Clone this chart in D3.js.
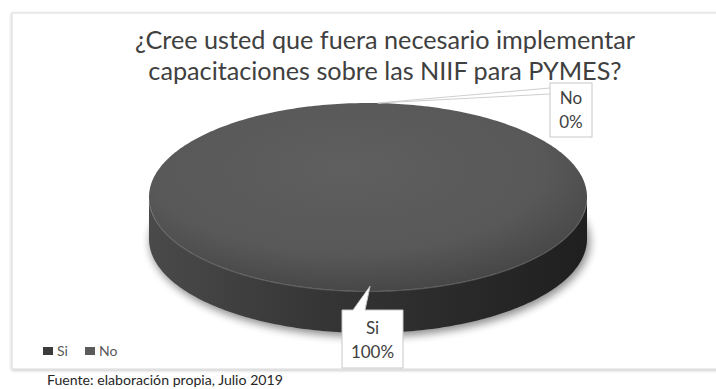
<!DOCTYPE html>
<html>
<head>
<meta charset="utf-8">
<script src="https://cdn.jsdelivr.net/npm/d3@7"></script>
<style>
  html, body { margin: 0; padding: 0; background: #ffffff; }
  svg { display: block; }
</style>
</head>
<body>
<svg id="chart" width="716" height="389"></svg>
<script>
// Survey answers
const categories = ["Si", "No"];
const values = [100, 0];
const sliceColors = ["#565656", "#6a6a6a"];
const legendColors = ["#3c3c3c", "#5a5a5a"];
const titleLines = [
  "¿Cree usted que fuera necesario implementar",
  "capacitaciones sobre las NIIF para PYMES?"
];
const sourceNote = "Fuente: elaboración propia,  Julio 2019";

const W = 716, H = 389;
const FONT = "Lato, 'Open Sans', sans-serif";
const svg = d3.select("#chart");
const defs = svg.append("defs");

// Frame around the chart area
const frameShadow = defs.append("filter").attr("id", "frameShadow")
  .attr("x", "-5%").attr("y", "-5%").attr("width", "110%").attr("height", "115%");
frameShadow.append("feGaussianBlur").attr("in", "SourceAlpha").attr("stdDeviation", 1.5).attr("result", "b");
frameShadow.append("feOffset").attr("in", "b").attr("dx", 0).attr("dy", 1).attr("result", "o");
frameShadow.append("feComponentTransfer").attr("in", "o").attr("result", "s")
  .append("feFuncA").attr("type", "linear").attr("slope", 0.25);
const fm = frameShadow.append("feMerge");
fm.append("feMergeNode").attr("in", "s");
fm.append("feMergeNode").attr("in", "SourceGraphic");

svg.append("rect")
  .attr("x", 12).attr("y", 13).attr("width", 730).attr("height", 356)
  .attr("fill", "#ffffff").attr("stroke", "#d9d9d9").attr("stroke-width", 1)
  .attr("filter", "url(#frameShadow)");

// Fit a text element to a target width
function fitWidth(sel, target, base) {
  sel.attr("font-size", base);
  const w = sel.node().getComputedTextLength();
  const s = base * target / w;
  sel.attr("font-size", s);
  return s;
}

// Title, two centred lines sharing one size
const titleX = 385;
const titleBase = [49, 80];
const t1 = svg.append("text").attr("x", titleX).attr("y", titleBase[0])
  .attr("text-anchor", "middle").attr("font-family", FONT).attr("fill", "#404040")
  .text(titleLines[0]);
const titleSize = fitWidth(t1, 500, 24);
svg.append("text").attr("x", titleX).attr("y", titleBase[1])
  .attr("text-anchor", "middle").attr("font-family", FONT).attr("fill", "#404040")
  .attr("font-size", titleSize)
  .text(titleLines[1]);

// 3D pie geometry
const cx = 368, cy = 197, rx = 219, ry = 94, depth = 42;
const pie = d3.pie().sort(null).value(d => d.value);
const arcs = pie(categories.map((c, i) => ({ cat: c, value: values[i], i })));
const total = d3.sum(values);

// projected point on the top (dz = 0) or bottom (dz = depth) rim
const xAt = a => cx + rx * Math.sin(a);
const yAt = (a, dz) => cy - ry * Math.cos(a) + dz;

function angleSteps(a0, a1) {
  const n = Math.max(2, Math.ceil((a1 - a0) / (Math.PI / 180)));
  return d3.range(n + 1).map(k => a0 + (a1 - a0) * k / n);
}

// gradients
const topGrad = defs.append("radialGradient").attr("id", "topGrad")
  .attr("cx", "45%").attr("cy", "35%").attr("r", "65%");
topGrad.append("stop").attr("offset", "0%").attr("stop-color", "#5f5f5f");
topGrad.append("stop").attr("offset", "70%").attr("stop-color", "#585858");
topGrad.append("stop").attr("offset", "100%").attr("stop-color", "#474747");

const sideGrad = defs.append("linearGradient").attr("id", "sideGrad")
  .attr("x1", "0%").attr("y1", "0%").attr("x2", "100%").attr("y2", "0%");
sideGrad.append("stop").attr("offset", "0%").attr("stop-color", "#4a4a4a");
sideGrad.append("stop").attr("offset", "40%").attr("stop-color", "#353535");
sideGrad.append("stop").attr("offset", "100%").attr("stop-color", "#1f1f1f");

const blur = defs.append("filter").attr("id", "pieShadow")
  .attr("x", "-20%").attr("y", "-20%").attr("width", "140%").attr("height", "150%");
blur.append("feGaussianBlur").attr("stdDeviation", 4);

const pieG = svg.append("g");

// soft shadow under the pie
pieG.append("ellipse")
  .attr("cx", cx + 2).attr("cy", cy + depth + 3)
  .attr("rx", rx + 1).attr("ry", ry + 1)
  .attr("fill", "#000").attr("opacity", 0.45)
  .attr("filter", "url(#pieShadow)");

// side walls: front half only (angles between PI/2 and 3PI/2)
arcs.forEach(d => {
  const a0 = Math.max(d.startAngle, Math.PI / 2);
  const a1 = Math.min(d.endAngle, 3 * Math.PI / 2);
  if (a1 <= a0) return;
  const steps = angleSteps(a0, a1);
  const pts = steps.map(a => [xAt(a), yAt(a, 0)])
    .concat(steps.slice().reverse().map(a => [xAt(a), yAt(a, depth)]));
  pieG.append("path")
    .attr("d", d3.line()(pts) + "Z")
    .attr("fill", d.index === 0 ? "url(#sideGrad)" : sliceColors[d.index]);
});

// top faces
arcs.forEach(d => {
  if (d.endAngle - d.startAngle <= 0) return;
  const steps = angleSteps(d.startAngle, d.endAngle);
  const pts = steps.map(a => [xAt(a), yAt(a, 0)]);
  const full = d.endAngle - d.startAngle >= 2 * Math.PI - 1e-9;
  const path = full ? d3.line()(pts) + "Z" : d3.line()([[cx, cy]].concat(pts)) + "Z";
  pieG.append("path")
    .attr("d", path)
    .attr("fill", d.index === 0 ? "url(#topGrad)" : sliceColors[d.index]);
});

// subtle highlight along the front rim
const rimSteps = angleSteps(Math.PI / 2 + 0.05, 3 * Math.PI / 2 - 0.05);
pieG.append("path")
  .attr("d", d3.line()(rimSteps.map(a => [xAt(a), yAt(a, 0) + 0.5])))
  .attr("fill", "none").attr("stroke", "#7a7a7a").attr("stroke-width", 1.2)
  .attr("opacity", 0.55);

// data labels with callouts
const pct = v => Math.round(v / total * 100) + "%";
const labelFont = 17;

function midAngle(d) { return (d.startAngle + d.endAngle) / 2; }

// "Si" label below the pie, pointer up into the slice
(function () {
  const d = arcs[0];
  const a = midAngle(d);
  const tip = [cx + rx * 0.95 * Math.sin(a) + 2, cy - ry * 0.95 * Math.cos(a)];
  const bx0 = 342, bx1 = 403, by0 = 310, by1 = 368;
  const outline = [[bx0, by0], [353, by0], tip, [365, by0], [bx1, by0], [bx1, by1], [bx0, by1]];
  svg.append("path").attr("d", d3.line()(outline) + "Z")
    .attr("fill", "#ffffff").attr("stroke", "#c8c8c8").attr("stroke-width", 1);
  const lx = (bx0 + bx1) / 2;
  svg.append("text").attr("x", lx).attr("y", 334).attr("text-anchor", "middle")
    .attr("font-family", FONT).attr("font-size", labelFont).attr("fill", "#404040")
    .text(d.data.cat);
  svg.append("text").attr("x", lx).attr("y", 358).attr("text-anchor", "middle")
    .attr("font-family", FONT).attr("font-size", labelFont).attr("fill", "#404040")
    .text(pct(d.data.value));
})();

// "No" label above-right, thin wedge pointer to the top of the pie
(function () {
  const d = arcs[1];
  const a = midAngle(d);
  const tip = [xAt(a) + 10, yAt(a, 0)];
  const bx0 = 550, bx1 = 592, by0 = 83, by1 = 137;
  svg.append("path").attr("d", d3.line()([[bx0, 88], tip, [bx0, 94]]))
    .attr("fill", "#ffffff").attr("stroke", "#cfcfcf").attr("stroke-width", 1);
  svg.append("rect").attr("x", bx0).attr("y", by0)
    .attr("width", bx1 - bx0).attr("height", by1 - by0)
    .attr("fill", "#ffffff").attr("stroke", "#c8c8c8").attr("stroke-width", 1);
  const lx = (bx0 + bx1) / 2;
  svg.append("text").attr("x", lx).attr("y", 104).attr("text-anchor", "middle")
    .attr("font-family", FONT).attr("font-size", labelFont).attr("fill", "#404040")
    .text(d.data.cat);
  svg.append("text").attr("x", lx).attr("y", 128).attr("text-anchor", "middle")
    .attr("font-family", FONT).attr("font-size", labelFont).attr("fill", "#404040")
    .text(pct(d.data.value));
})();

// legend
const legend = svg.append("g").attr("transform", "translate(43,347)");
const legendX = [0, 42];
categories.forEach((c, i) => {
  const g = legend.append("g").attr("transform", `translate(${legendX[i]},0)`);
  g.append("rect").attr("width", 10).attr("height", 8).attr("fill", legendColors[i]);
  g.append("text").attr("x", 14).attr("y", 9)
    .attr("font-family", FONT).attr("font-size", 14).attr("fill", "#595959")
    .text(c);
});

// source note
const src = svg.append("text").attr("x", 47).attr("y", 385)
  .attr("font-family", FONT).attr("fill", "#262626")
  .text(sourceNote);
fitWidth(src, 236, 13);
</script>
</body>
</html>
